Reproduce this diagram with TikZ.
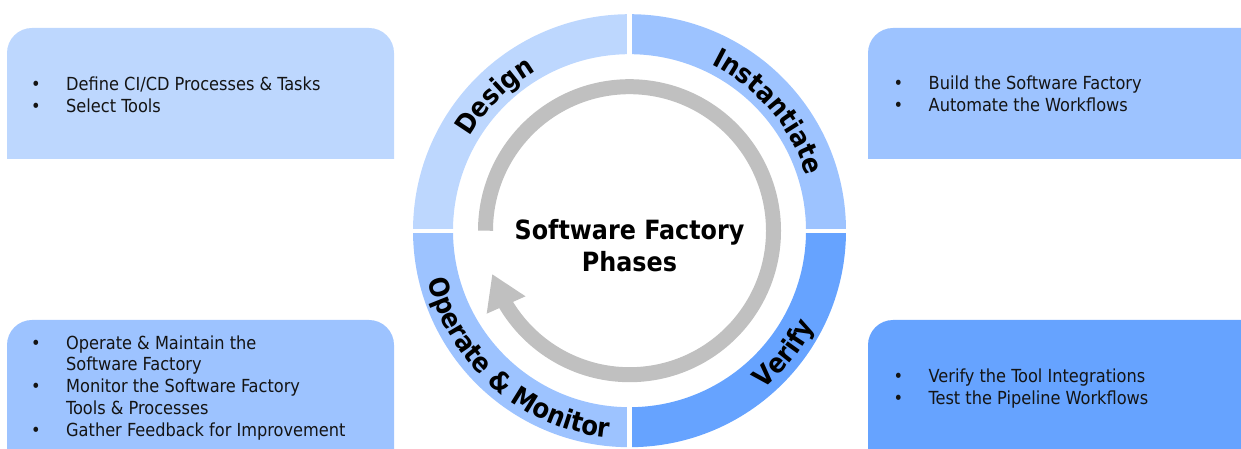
\documentclass[tikz,border=0pt]{standalone}
\usepackage{fontspec}
\setmainfont{DejaVuSansCondensed.ttf}[BoldFont=DejaVuSansCondensed-Bold.ttf]
\usetikzlibrary{arrows.meta,bending,decorations.text}

\definecolor{lightblue}{HTML}{BDD7FE}
\definecolor{midblue}{HTML}{9DC3FF}
\definecolor{darkblue}{HTML}{66A3FF}
\definecolor{arrowgray}{HTML}{C0C0C0}
\definecolor{textblack}{HTML}{141414}

\newcommand{\ringfont}{\bfseries\fontsize{27}{32}\selectfont}

\tikzset{
	listtext/.style={anchor=base west, inner sep=0pt, text=textblack,
		font=\fontsize{18}{21.7}\selectfont},
	ringlabel/.style={decorate, decoration={text along path, text align=center,
		text color=black, text={|\ringfont|#1}}}
}

\begin{document}
\begin{tikzpicture}[x=1pt,y=1pt]
		\useasboundingbox (0,0) rectangle (1241,449);
		\coordinate (hub) at (629.5,218.3);

		% zeichne Kaesten
		\fill[lightblue] (7,290) -- (7,396) arc[start angle=180,end angle=90,radius=25]
			-- (369,421) arc[start angle=90,end angle=0,radius=25] -- (394,290) -- cycle;
		\fill[midblue] (868,290) -- (868,396) arc[start angle=180,end angle=90,radius=25]
			-- (1241,421) -- (1241,290) -- cycle;
		\fill[midblue] (7,0) -- (7,104) arc[start angle=180,end angle=90,radius=25]
			-- (369,129) arc[start angle=90,end angle=0,radius=25] -- (394,0) -- cycle;
		\fill[darkblue] (868,0) -- (868,104) arc[start angle=180,end angle=90,radius=25]
			-- (1241,129) -- (1241,0) -- cycle;

		% zeichne Texte in den Kaesten
		\node[listtext] (design text) at (31,358.3) {\begin{tabular}[t]{@{}p{35pt}@{}l@{}}
			• & Define CI/CD Processes \& Tasks\\
			• & Select Tools
		\end{tabular}};
		\node[listtext] (instantiate text) at (893.5,359) {\begin{tabular}[t]{@{}p{35pt}@{}l@{}}
			• & Build the Software Factory\\
			• & Automate the Workflows
		\end{tabular}};
		\node[listtext] (operate text) at (31,99.7) {\begin{tabular}[t]{@{}p{35pt}@{}l@{}}
			• & Operate \& Maintain the\\
			  & Software Factory\\
			• & Monitor the Software Factory\\
			  & Tools \& Processes\\
			• & Gather Feedback for Improvement
		\end{tabular}};
		\node[listtext] (verify text) at (893.5,66.3) {\begin{tabular}[t]{@{}p{35pt}@{}l@{}}
			• & Verify the Tool Integrations\\
			• & Test the Pipeline Workflows
		\end{tabular}};

		% zeichne Ring
		\fill[lightblue] (hub) ++(180:216.5) arc[start angle=180,end angle=90,radius=216.5]
			-- ++(90:-40) arc[start angle=90,end angle=180,radius=176.5] -- cycle;
		\fill[midblue] (hub) ++(90:216.5) arc[start angle=90,end angle=0,radius=216.5]
			-- ++(0:-40) arc[start angle=0,end angle=90,radius=176.5] -- cycle;
		\fill[darkblue] (hub) ++(0:216.5) arc[start angle=0,end angle=-90,radius=216.5]
			-- ++(-90:-40) arc[start angle=-90,end angle=0,radius=176.5] -- cycle;
		\fill[midblue] (hub) ++(-90:216.5) arc[start angle=-90,end angle=-180,radius=216.5]
			-- ++(-180:-40) arc[start angle=-180,end angle=-90,radius=176.5] -- cycle;
		\draw[white, line width=4.3pt] (hub) ++(0,-220) -- ++(0,440);
		\draw[white, line width=4.3pt] (hub) ++(-220,0) -- ++(440,0);

		% Beschriftung des Rings
		\path[ringlabel=Design] (hub) ++(180:185) arc[start angle=180,end angle=90,radius=185];
		\path[ringlabel=Instantiate] (hub) ++(81:185) arc[start angle=81,end angle=0,radius=185];
		\path[ringlabel=Verify] (hub) ++(-77:208) arc[start angle=-77,end angle=0,radius=208];
		\path[ringlabel={Operate {\&} Monitor}] (hub) ++(188:208) arc[start angle=188,end angle=270,radius=208];

		% zeichne Pfeil
		\draw[arrowgray, line width=15pt, -{Triangle[width=40pt,length=34pt]}]
			(hub) ++(180:144) arc[start angle=180,end angle=-162.5,radius=144];

		\node[font=\bfseries\fontsize{26.5}{32}\selectfont, align=center] (title) at (629.5,203)
			{Software Factory\\Phases};
	\end{tikzpicture}
\end{document}
